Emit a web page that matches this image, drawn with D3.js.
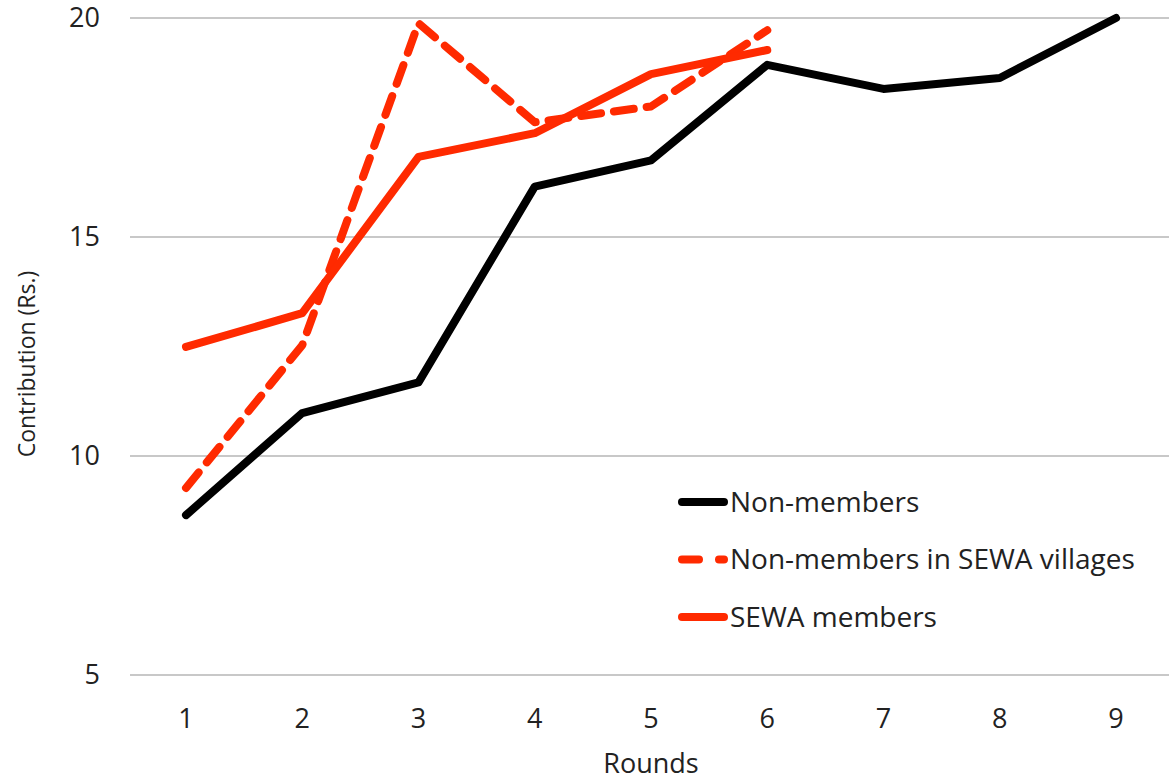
<!DOCTYPE html>
<html>
<head>
<meta charset="utf-8">
<script src="https://cdn.jsdelivr.net/npm/d3@7"></script>
<style>
  body { margin: 0; background: #fff; }
  svg text { font-family: "Open Sans", "Noto Sans", sans-serif; fill: #222; }
</style>
</head>
<body>
<svg id="chart" width="1169" height="782"></svg>
<script>
// data
const rounds = [1, 2, 3, 4, 5, 6, 7, 8, 9];
const nonMembers = [8.65, 10.98, 11.68, 16.15, 16.75, 18.93, 18.38, 18.63, 20.0];
const nonMembersSewaVillages = [9.27, 12.53, 19.88, 17.62, 17.98, 19.72];
const sewaMembers = [12.49, 13.26, 16.83, 17.37, 18.72, 19.27];
const yTicks = [5, 10, 15, 20];

const series = [
  { name: "Non-members", values: nonMembers, color: "#000", dash: null },
  { name: "Non-members in SEWA villages", values: nonMembersSewaVillages, color: "#ff2a00", dash: "20,13" },
  { name: "SEWA members", values: sewaMembers, color: "#ff2a00", dash: null }
];

const svg = d3.select("#chart");
const margin = { top: 18, right: 0, bottom: 107, left: 130 };
const width = 1169, height = 782;

const x = d3.scalePoint()
  .domain(rounds)
  .range([186, 1116]);

const y = d3.scaleLinear()
  .domain([5, 20])
  .range([height - margin.bottom, margin.top]);

// gridlines
svg.append("g")
  .selectAll("line")
  .data(yTicks)
  .enter()
  .append("line")
    .attr("x1", margin.left)
    .attr("x2", width - margin.right)
    .attr("y1", d => y(d))
    .attr("y2", d => y(d))
    .attr("stroke", "#c8c8c8")
    .attr("stroke-width", 2);

// y tick labels
svg.append("g")
  .selectAll("text")
  .data(yTicks)
  .enter()
  .append("text")
    .attr("x", 100)
    .attr("y", d => y(d))
    .attr("dy", "0.35em")
    .attr("text-anchor", "end")
    .style("font-size", "27px")
    .text(d => d);

// x tick labels
svg.append("g")
  .selectAll("text")
  .data(rounds)
  .enter()
  .append("text")
    .attr("x", d => x(d))
    .attr("y", 719)
    .attr("dy", "0.35em")
    .attr("text-anchor", "middle")
    .style("font-size", "27px")
    .text(d => d);

// axis titles
svg.append("text")
  .attr("x", 651)
  .attr("y", 764)
  .attr("dy", "0.35em")
  .attr("text-anchor", "middle")
  .style("font-size", "27px")
  .text("Rounds");

svg.append("text")
  .attr("transform", "translate(27,364)rotate(-90)")
  .attr("dy", "0.35em")
  .attr("text-anchor", "middle")
  .style("font-size", "23px")
  .text("Contribution (Rs.)");

// lines
const line = d3.line()
  .x((d, i) => x(rounds[i]))
  .y(d => y(d));

svg.append("g")
  .selectAll("path")
  .data(series)
  .enter()
  .append("path")
    .attr("d", d => line(d.values))
    .attr("fill", "none")
    .attr("stroke", d => d.color)
    .attr("stroke-width", 8)
    .attr("stroke-linejoin", "round")
    .attr("stroke-linecap", "round")
    .attr("stroke-dasharray", d => d.dash);

// legend
const legend = svg.append("g")
  .selectAll("g")
  .data(series)
  .enter()
  .append("g")
    .attr("transform", (d, i) => `translate(682,${502 + i * 57.5})`);

legend.append("line")
  .attr("x1", 0)
  .attr("x2", 42)
  .attr("stroke", d => d.color)
  .attr("stroke-width", 8)
  .attr("stroke-linecap", "round")
  .attr("stroke-dasharray", d => d.dash ? "17,20" : null);

legend.append("text")
  .attr("x", 48)
  .attr("dy", "0.35em")
  .style("font-size", "28px")
  .text(d => d.name);
</script>
</body>
</html>
